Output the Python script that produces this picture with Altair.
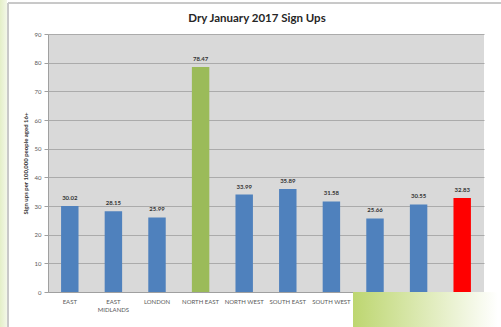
import altair as alt
import pandas as pd

regions = ["EAST", "EAST MIDLANDS", "LONDON", "NORTH EAST", "NORTH WEST",
           "SOUTH EAST", "SOUTH WEST", "WEST MIDLANDS", "YORKSHIRE AND THE HUMBER", "ENGLAND"]
signups = [30.02, 28.15, 25.99, 78.47, 33.99, 35.89, 31.58, 25.66, 30.55, 32.83]
bar_colors = ["#4F81BD", "#4F81BD", "#4F81BD", "#9BBB59", "#4F81BD",
              "#4F81BD", "#4F81BD", "#4F81BD", "#4F81BD", "#FF0000"]
y_ticks = [0, 10, 20, 30, 40, 50, 60, 70, 80, 90]

df = pd.DataFrame({"region": regions, "value": signups, "color": bar_colors})

FONT = "Lato"
W, H = 436, 258

label_expr = ("datum.value == 'EAST MIDLANDS' ? ['EAST', 'MIDLANDS'] : "
              "(indexof(['WEST MIDLANDS', 'YORKSHIRE AND THE HUMBER', 'ENGLAND'], datum.value) >= 0 ? '' : datum.value)")

x = alt.X("region:N", sort=regions, scale=alt.Scale(paddingInner=0.6, paddingOuter=0.3),
          axis=alt.Axis(title=None, labelAngle=0, labelFontSize=6, labelColor="#595959",
                        labelFont=FONT, ticks=False, labelPadding=6, domainColor="#a0a0a0",
                        labelExpr=label_expr))
y = alt.Y("value:Q", scale=alt.Scale(domain=[0, 90], nice=False),
          axis=alt.Axis(values=y_ticks, labelOverlap=False, title="Sign ups per 100,000 people aged 16+",
                        titleFontSize=6, titleFont=FONT, titleFontWeight="bold", titleColor="#333333",
                        titlePadding=6, labelFontSize=6, labelColor="#595959", labelFont=FONT,
                        tickSize=4, tickColor="#a0a0a0", domainColor="#a0a0a0",
                        gridColor="#ababab", gridWidth=1, labelPadding=3))

bars = alt.Chart(df).mark_bar().encode(x=x, y=y, color=alt.Color("color:N", scale=None))
labels = alt.Chart(df).mark_text(dy=-5, fontSize=6, fontWeight="bold", color="#333333",
                                 font=FONT, baseline="bottom").encode(
    x=x, y=y, text=alt.Text("value:Q", format=".2f"))

# decorative slide elements
frame = alt.Chart(df).mark_rect(fillOpacity=0, stroke="#c8c8c8", strokeWidth=1).encode(
    x=alt.value(-40), x2=alt.value(470), y=alt.value(-31), y2=alt.value(320))
left_strip = alt.Chart(df).mark_rect(
    color=alt.Gradient(gradient="linear", stops=[alt.GradientStop(offset=0, color="#e4efc8"),
                                                 alt.GradientStop(offset=1, color="#f3f7e8")],
                       x1=0, x2=1, y1=0, y2=0)).encode(
    x=alt.value(-48), x2=alt.value(-41), y=alt.value(-34), y2=alt.value(293))
overlay = alt.Chart(df).mark_rect(
    color=alt.Gradient(gradient="linear", stops=[alt.GradientStop(offset=0, color="#bdd670"),
                                                 alt.GradientStop(offset=1, color="#ffffff")],
                       x1=0, x2=1, y1=0, y2=0)).encode(
    x=alt.value(305), x2=alt.value(450), y=alt.value(258.5), y2=alt.value(293))

chart = alt.layer(bars, labels, frame, left_strip, overlay).properties(
    width=W, height=H,
    background="white",
    title=alt.Title("Dry January 2017 Sign Ups", fontSize=11.5, font=FONT, fontWeight="bold",
                    color="#262626", offset=-24, dx=-9, frame="group"),
    autosize=alt.AutoSizeParams(type="none"),
    padding={"left": 48, "top": 34, "right": 17, "bottom": 35},
).configure_view(fill="#D9D9D9", stroke=None)

chart.save("out.html", embed_options={"renderer": "svg", "actions": False})
